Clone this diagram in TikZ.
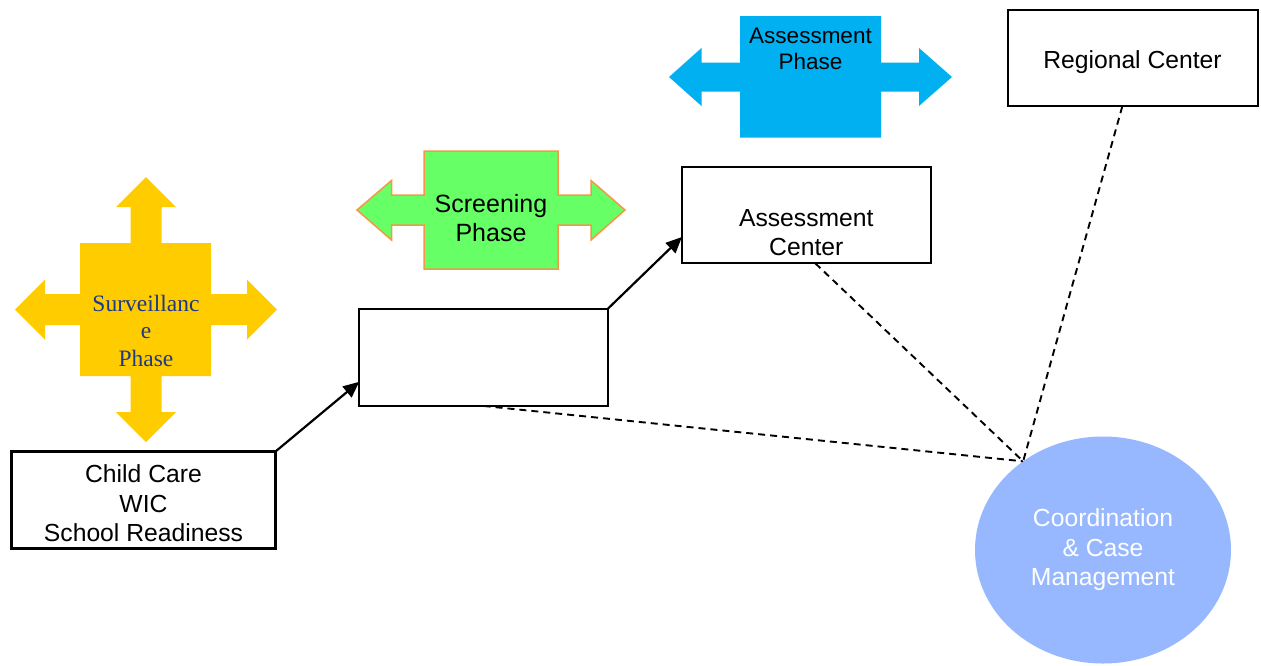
\documentclass[tikz,border=0pt]{standalone}
\usepackage{fontspec}
\setmainfont{Liberation Sans}
\newfontfamily\phaseserif{Liberation Serif}
\usetikzlibrary{arrows.meta,shapes.geometric}
\definecolor{survyellow}{HTML}{FFCC00}
\definecolor{survtext}{HTML}{1F3A85}
\definecolor{screengreen}{HTML}{66FF66}
\definecolor{screenedge}{HTML}{F79646}
\definecolor{assessblue}{HTML}{00B0F0}
\definecolor{coordblue}{HTML}{97B8FF}

\begin{document}
\begin{tikzpicture}[x=1pt,y=-1pt,
  box/.style={draw, line width=2.2pt, fill=white, inner sep=0pt, outer sep=0pt},
  boxtxt/.style={font=\fontsize{24.7}{29.5}\selectfont, align=center, inner sep=0pt},
  flow/.style={line width=2.2pt, -{Triangle[length=16pt,width=14pt]}},
  link/.style={line width=1.9pt, dash pattern=on 7pt off 5pt},
  phasetxt/.style={align=center, inner sep=0pt}
]
\useasboundingbox (0,0) rectangle (1261,665);

% Surveillance phase: four-way arrow
\fill[survyellow] (146,177) -- (176,207) -- (161.5,207) -- (161.5,243) -- (211,243)
  -- (211,294) -- (247,294) -- (247,279.5) -- (277,309.5) -- (247,339.5) -- (247,325)
  -- (211,325) -- (211,376) -- (161.5,376) -- (161.5,412) -- (176,412) -- (146,442)
  -- (116,412) -- (130.5,412) -- (130.5,376) -- (80,376) -- (80,325) -- (45,325)
  -- (45,339.5) -- (15,309.5) -- (45,279.5) -- (45,294) -- (80,294) -- (80,243)
  -- (130.5,243) -- (130.5,207) -- (116,207) -- cycle;
\node[phasetxt, font=\phaseserif\fontsize{23.5}{27.5}\selectfont, text=survtext]
  (surv) at (146,330.5) {Surveillanc\\e\\Phase};

% Screening phase: left-right arrow
\filldraw[fill=screengreen, draw=screenedge, line width=1.5pt, line join=miter]
  (424,151) -- (558,151) -- (558,195) -- (591,195) -- (591,180.5) -- (625,210)
  -- (591,240) -- (591,225) -- (558,225) -- (558,269) -- (424,269) -- (424,225)
  -- (391.5,225) -- (391.5,240) -- (357,210) -- (391.5,180.5) -- (391.5,195)
  -- (424,195) -- cycle;
\node[phasetxt, font=\fontsize{25}{28.5}\selectfont] (scr) at (491,218) {Screening\\Phase};

% Assessment phase: left-right arrow
\fill[assessblue]
  (740,16) -- (881,16) -- (881,62.5) -- (919,62.5) -- (919,48) -- (952,77)
  -- (919,106) -- (919,91.5) -- (881,91.5) -- (881,137.5) -- (740,137.5) -- (740,91.5)
  -- (701.5,91.5) -- (701.5,106) -- (669,77) -- (701.5,48) -- (701.5,62.5)
  -- (740,62.5) -- cycle;
\node[phasetxt, font=\fontsize{22.5}{26.6}\selectfont] (asp) at (810.5,49) {Assessment\\Phase};

% Service boxes
\node[box, minimum width=264pt, minimum height=97pt,
  label={[boxtxt, yshift=-3.4pt]center:Child Care\\WIC\\School Readiness}]
  (cc) at (143.5,500) {};
\node[box, minimum width=248.7pt, minimum height=97.3pt] (sb) at (483.6,357.3) {};
\node[box, minimum width=248.7pt, minimum height=96.6pt,
  label={[boxtxt, yshift=-17.7pt]center:Assessment\\Center}]
  (ac) at (806.3,215) {};
\node[box, minimum width=250pt, minimum height=96.3pt,
  label={[boxtxt, yshift=-4.3pt, xshift=-0.8pt]center:Regional Center}]
  (rc) at (1133.3,58.2) {};

% Coordination hub
\node[ellipse, fill=coordblue, minimum width=256pt, minimum height=227pt, inner sep=0pt,
  outer sep=0pt, align=center, text=white, font=\fontsize{24.7}{29.5}\selectfont]
  (coord) at (1103,550) {Coordination\\\& Case\\Management};
\coordinate (hub) at (coord.132.6);

% Referral flow
\draw[flow] (cc.north east) -- ([yshift=-24.5pt]sb.west);
\draw[flow] (sb.north east) -- ([yshift=-22pt]ac.west);

% Coordination links
\draw[link] (sb.south) -- (hub);
\draw[link] ([xshift=9pt]ac.south) -- (hub);
\draw[link] ([xshift=-11pt]rc.south) -- (hub);
\end{tikzpicture}
\end{document}
